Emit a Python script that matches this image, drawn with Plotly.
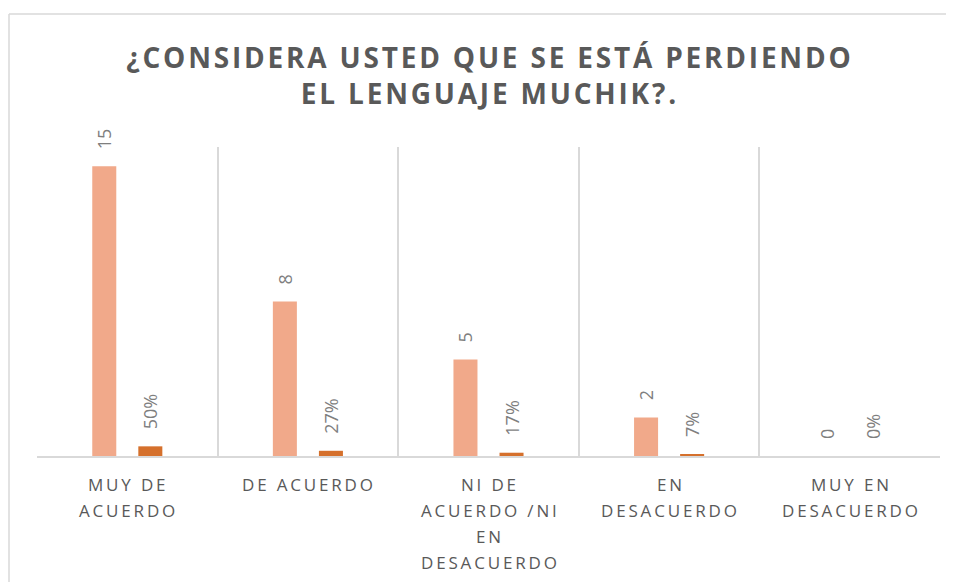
import plotly.graph_objects as go

# Data
categories = [
    ["MUY DE", "ACUERDO"],
    ["DE ACUERDO"],
    ["NI DE", "ACUERDO /NI", "EN", "DESACUERDO"],
    ["EN", "DESACUERDO"],
    ["MUY EN", "DESACUERDO"],
]
counts = [15, 8, 5, 2, 0]
percents = [0.50, 0.27, 0.17, 0.07, 0.0]

title_lines = ["¿CONSIDERA USTED QUE SE ESTÁ PERDIENDO", "EL LENGUAJE MUCHIK?."]


def spaced(text, sep="\u2009"):
    # emulate the wide letter spacing of the original
    return sep.join(text)


xpos = list(range(len(categories)))
pad = "\u00a0\u00a0\u00a0"  # gap between bar top and its label

label_font = dict(family="Open Sans", size=18, color="#7F7F7F")

fig = go.Figure()
fig.add_trace(go.Bar(
    x=xpos, y=counts, width=0.133, offset=-0.194,
    marker=dict(color="#F1A98A", line=dict(width=0)),
    text=[pad + str(v) for v in counts], textposition="outside", textangle=-90,
    textfont=label_font, constraintext="none",
    cliponaxis=False, name="Cantidad"))
fig.add_trace(go.Bar(
    x=xpos, y=percents, width=0.133, offset=0.061,
    marker=dict(color="#D5702C", line=dict(width=0)),
    text=[pad + f"{round(p * 100)}%" for p in percents], textposition="outside", textangle=-90,
    textfont=label_font, constraintext="none",
    cliponaxis=False, name="Porcentaje"))

# category labels: one annotation per line so the line spacing matches the original
for x, lines in zip(xpos, categories):
    for i, line in enumerate(lines):
        fig.add_annotation(
            x=x, y=0, xref="x", yref="y", yanchor="middle", xanchor="center",
            yshift=-28 - 26.3 * i, showarrow=False, text=spaced(line),
            font=dict(family="Open Sans", size=17, color="#595959"))

# page body adds an 8px offset, margins compensate for it
fig.update_layout(
    width=954, height=582,
    margin=dict(l=29, r=22, t=139, b=134, autoexpand=False),
    paper_bgcolor="white", plot_bgcolor="white",
    barmode="overlay", showlegend=False,
    title=dict(
        text="<br>".join(spaced(l, "\u200a") for l in title_lines),
        x=0.5, xref="paper", xanchor="center",
        y=1 - 60 / 582, yanchor="top",
        font=dict(family="Open Sans", size=28, color="#595959", weight="bold")),
    font=dict(family="Open Sans"),
)
fig.update_xaxes(
    range=[-0.5, 4.5], tickmode="array", tickvals=xpos, showticklabels=False,
    showgrid=False, zeroline=False, ticks="",
    showline=True, linecolor="#D9D9D9", linewidth=2,
    minor=dict(tickmode="array", tickvals=[x - 0.5 for x in xpos] + [xpos[-1] + 0.5],
               showgrid=True, gridcolor="#D9D9D9", gridwidth=1.5, ticks=""),
)
fig.update_yaxes(range=[0, 16], visible=False, showgrid=False, zeroline=False)

# outer chart-area border: only top and left edges are visible in the original
border = dict(color="#D9D9D9", width=1.5)
top = (456 - 14) / 309
left = -28 / 903
fig.add_shape(type="line", xref="paper", yref="paper",
              x0=left, x1=1.3, y0=top, y1=top, line=border, layer="below")
fig.add_shape(type="line", xref="paper", yref="paper",
              x0=left, x1=left, y0=top, y1=-0.6, line=border, layer="below")

fig.write_html("out.html")
